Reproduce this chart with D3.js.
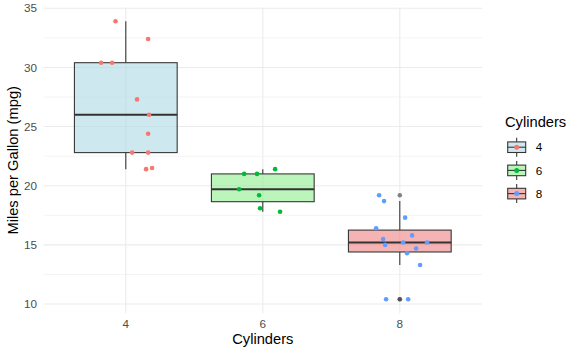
<!DOCTYPE html>
<html><head><meta charset="utf-8">
<script src="https://cdn.jsdelivr.net/npm/d3@7"></script>
<style>body{margin:0;background:#fff}svg{display:block}text{font-family:"Liberation Sans",Arial,sans-serif}</style>
</head><body>
<script>
// Data (mtcars mpg by cylinders) and horizontal jitter offsets
const categories = ["4", "6", "8"];
const mpg4 = [33.9, 32.4, 30.4, 30.4, 27.3, 26.0, 24.4, 22.8, 22.8, 21.4, 21.5];
const jit4 = [-0.075, 0.163, -0.180, -0.100, 0.082, 0.170, 0.163, 0.046, 0.163, 0.148, 0.192];
const mpg6 = [21.0, 21.0, 21.4, 19.7, 19.2, 18.1, 17.8];
const jit6 = [-0.136, -0.042, 0.090, -0.173, -0.027, -0.020, 0.126];
const mpg8 = [19.2, 18.7, 17.3, 16.4, 15.8, 15.5, 15.0, 15.2, 15.2, 14.7, 14.3, 13.3, 10.4, 10.4];
const jit8 = [-0.151, -0.115, 0.039, -0.173, 0.090, -0.122, -0.107, 0.024, 0.199, 0.119, 0.053, 0.148, -0.100, 0.061];
const yTicks = [10, 15, 20, 25, 30, 35];
const yMinor = [12.5, 17.5, 22.5, 27.5, 32.5];
const boxFills = ["#add8e6", "#90ee90", "#f08080"];
const pointColors = ["#F8766D", "#00BA38", "#619CFF"];
const xTitle = "Cylinders", yTitle = "Miles per Gallon (mpg)", legendTitle = "Cylinders";

const groups = [mpg4, mpg6, mpg8];
const jitters = [jit4, jit6, jit8];

const W = 581, H = 355;
const svg = d3.select("body").append("svg").attr("width", W).attr("height", H);

const allVals = groups.flat();
const lo = d3.min(allVals), hi = d3.max(allVals), pad = (hi - lo) * 0.05;
const x = d3.scaleLinear().domain([0.4, 3.6]).range([43.6, 482]);
const y = d3.scaleLinear().domain([lo - pad, hi + pad]).range([313.2, 7.4]);

const g = svg.append("g");
// grid
g.selectAll(".ymin").data(yMinor).join("line")
  .attr("x1", x.range()[0]).attr("x2", x.range()[1])
  .attr("y1", d => y(d)).attr("y2", d => y(d))
  .attr("stroke", "#ebebeb").attr("stroke-width", 0.55);
g.selectAll(".ymaj").data(yTicks).join("line")
  .attr("x1", x.range()[0]).attr("x2", x.range()[1])
  .attr("y1", d => y(d)).attr("y2", d => y(d))
  .attr("stroke", "#ebebeb").attr("stroke-width", 1.07);
g.selectAll(".xmaj").data(categories).join("line")
  .attr("x1", (d, i) => x(i + 1)).attr("x2", (d, i) => x(i + 1))
  .attr("y1", y.range()[0]).attr("y2", y.range()[1])
  .attr("stroke", "#ebebeb").attr("stroke-width", 1.07);

// boxplots
const bw = 0.75 / 2;
groups.forEach((vals, i) => {
  const s = vals.slice().sort(d3.ascending);
  const q1 = d3.quantile(s, 0.25), med = d3.quantile(s, 0.5), q3 = d3.quantile(s, 0.75);
  const iqr = q3 - q1;
  const inl = s.filter(v => v >= q1 - 1.5 * iqr && v <= q3 + 1.5 * iqr);
  const wlo = d3.min(inl), whi = d3.max(inl);
  const outs = s.filter(v => v < q1 - 1.5 * iqr || v > q3 + 1.5 * iqr);
  const cx = x(i + 1);
  g.append("line").attr("x1", cx).attr("x2", cx).attr("y1", y(q3)).attr("y2", y(whi))
    .attr("stroke", "#333333").attr("stroke-width", 1.07);
  g.append("line").attr("x1", cx).attr("x2", cx).attr("y1", y(q1)).attr("y2", y(wlo))
    .attr("stroke", "#333333").attr("stroke-width", 1.07);
  g.append("rect").attr("x", x(i + 1 - bw)).attr("width", x(i + 1 + bw) - x(i + 1 - bw))
    .attr("y", y(q3)).attr("height", y(q1) - y(q3))
    .attr("fill", boxFills[i]).attr("fill-opacity", 0.6)
    .attr("stroke", "#333333").attr("stroke-width", 1.07);
  g.append("line").attr("x1", x(i + 1 - bw)).attr("x2", x(i + 1 + bw)).attr("y1", y(med)).attr("y2", y(med))
    .attr("stroke", "#333333").attr("stroke-width", 2.1);
  g.selectAll(null).data(outs).join("circle")
    .attr("cx", cx).attr("cy", d => y(d)).attr("r", 2.3)
    .attr("fill", "#333333").attr("fill-opacity", 0.6);
});

// jittered points
groups.forEach((vals, i) => {
  g.selectAll(null).data(vals.map((v, k) => ({ v, j: jitters[i][k] }))).join("circle")
    .attr("cx", d => x(i + 1 + d.j)).attr("cy", d => y(d.v)).attr("r", 2.3)
    .attr("fill", pointColors[i]);
});

// axes text
svg.selectAll(".yt").data(yTicks).join("text")
  .attr("x", 37).attr("y", d => y(d)).attr("dy", "0.36em")
  .attr("text-anchor", "end").attr("font-size", 11.7).attr("fill", "#4d4d4d").text(d => d);
svg.selectAll(".xt").data(categories).join("text")
  .attr("x", (d, i) => x(i + 1)).attr("y", 327.7)
  .attr("text-anchor", "middle").attr("font-size", 11.7).attr("fill", "#4d4d4d").text(d => d);
svg.append("text").attr("x", (x.range()[0] + x.range()[1]) / 2).attr("y", 344)
  .attr("text-anchor", "middle").attr("font-size", 14.7).attr("fill", "#000").text(xTitle);
svg.append("text").attr("transform", `translate(18,${(y.range()[0] + y.range()[1]) / 2}) rotate(-90)`)
  .attr("text-anchor", "middle").attr("font-size", 14.7).attr("fill", "#000").text(yTitle);

// legend
const lg = svg.append("g");
lg.append("text").attr("x", 505).attr("y", 126.7).attr("font-size", 14.7).attr("fill", "#000").text(legendTitle);
categories.forEach((c, i) => {
  const cy = 147.2 + i * 23.2, cx = 516.7;
  lg.append("line").attr("x1", cx).attr("x2", cx).attr("y1", cy - 9.5).attr("y2", cy + 9.5)
    .attr("stroke", "#333333").attr("stroke-width", 1.07);
  lg.append("rect").attr("x", 507.7).attr("width", 18).attr("y", cy - 5.3).attr("height", 10.6)
    .attr("fill", "#fff");
  lg.append("rect").attr("x", 507.7).attr("width", 18).attr("y", cy - 5.3).attr("height", 10.6)
    .attr("fill", boxFills[i]).attr("fill-opacity", 0.6)
    .attr("stroke", "#333333").attr("stroke-width", 1.07);
  lg.append("line").attr("x1", 507.7).attr("x2", 525.7).attr("y1", cy).attr("y2", cy)
    .attr("stroke", "#333333").attr("stroke-width", 1.07);
  lg.append("circle").attr("cx", cx).attr("cy", cy).attr("r", 2.5).attr("fill", pointColors[i]);
  lg.append("text").attr("x", 535.7).attr("y", cy).attr("dy", "0.36em")
    .attr("font-size", 11.7).attr("fill", "#000").text(c);
});
</script>
</body></html>
